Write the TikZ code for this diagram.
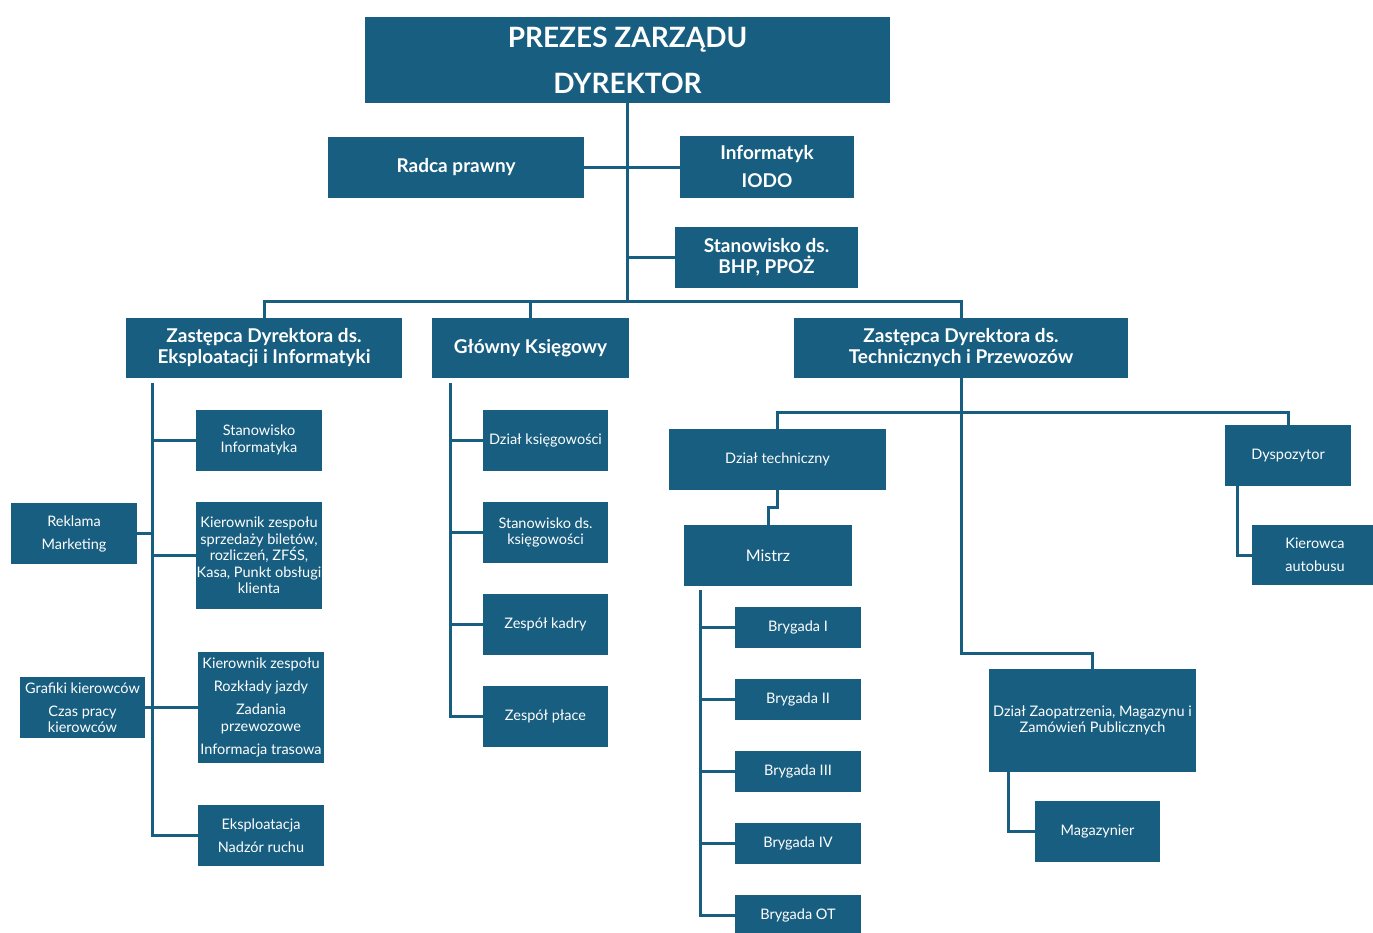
\documentclass[tikz,border=0pt]{standalone}
\usepackage{fontspec}
\setmainfont{Lato}
\definecolor{orgblue}{HTML}{185E80}
\begin{document}
\begin{tikzpicture}[x=1pt,y=-1pt,
	box/.style={fill=orgblue,text=white,align=center,inner sep=1pt,font=\fontsize{14.5}{16.5}\selectfont},
	bigbox/.style={box,font=\bfseries\fontsize{19}{21}\selectfont},
	small/.style={box,minimum width=126pt,minimum height=61pt},
	brygada/.style={box,minimum width=126pt,minimum height=41pt},
	link/.style={draw=orgblue,line width=3pt}]
	\useasboundingbox (0,0) rectangle (1373,932);
	\clip (0,0) rectangle (1373,932);
	\fill[white] (0,0) rectangle (1373,932);
	% top
	\node[bigbox,font=\bfseries\fontsize{28}{46}\selectfont,minimum width=525pt,minimum height=86pt] (prezes) at (627.5,60) {PREZES ZARZĄDU\\DYREKTOR};
	\node[bigbox,minimum width=256pt,minimum height=61pt] (radca) at (456,167) {Radca prawny};
	\node[bigbox,minimum width=174pt,minimum height=62pt] (informatyk) at (767,167) {Informatyk\\[7pt]IODO};
	\node[bigbox,minimum width=183pt,minimum height=61pt] (bhp) at (766.5,257.5) {Stanowisko ds.\\BHP, PPOŻ};
	\node[bigbox,minimum width=276pt,minimum height=60pt] (zastE) at (264,348) {Zastępca Dyrektora ds.\\Eksploatacji i Informatyki};
	\node[bigbox,minimum width=197pt,minimum height=60pt] (ksiegowy) at (530.5,348) {Główny Księgowy};
	\node[bigbox,minimum width=334pt,minimum height=60pt] (zastT) at (961,348) {Zastępca Dyrektora ds.\\Technicznych i Przewozów};
	% left column
	\node[small] (stInf) at (259,440) {Stanowisko\\Informatyka};
	\node[small] (reklama) at (74,533.5) {Reklama\\[6.5pt]Marketing};
	\node[small,minimum height=107pt] (sprzedaz) at (259,555.5) {Kierownik zespołu\\sprzedaży biletów,\\rozliczeń, ZFŚS,\\Kasa, Punkt obsługi\\klienta};
	\node[small,minimum width=125pt] (grafiki) at (82.5,707.5) {Grafiki kierowców\\[6.5pt]Czas pracy\\kierowców};
	\node[small,minimum height=111pt] (rozklady) at (261,707.5) {Kierownik zespołu\\[6.5pt]Rozkłady jazdy\\[6.5pt]Zadania\\przewozowe\\[6.5pt]Informacja trasowa};
	\node[small] (eksploatacja) at (261,835.5) {Eksploatacja\\[6.5pt]Nadzór ruchu};
	% middle column
	\node[small,minimum width=125pt] (dzKsieg) at (545.5,440) {Dział księgowości};
	\node[small,minimum width=125pt] (stKsieg) at (545.5,532.5) {Stanowisko ds.\\księgowości};
	\node[small,minimum width=125pt] (kadry) at (545.5,624) {Zespół kadry};
	\node[small,minimum width=125pt] (place) at (545.5,716) {Zespół płace};
	% right part
	\node[small,minimum width=217pt] (techniczny) at (777.5,459.5) {Dział techniczny};
	\node[small,minimum width=168pt,font=\fontsize{16}{18}\selectfont] (mistrz) at (768,555.5) {Mistrz};
	\node[brygada] (brygI) at (798,627.5) {Brygada I};
	\node[brygada] (brygII) at (798,699.5) {Brygada II};
	\node[brygada] (brygIII) at (798,771.5) {Brygada III};
	\node[brygada] (brygIV) at (798,843.5) {Brygada IV};
	\node[brygada] (brygOT) at (798,915.5) {Brygada OT};
	\node[small] (dyspozytor) at (1288,455.5) {Dyspozytor};
	\node[small,minimum height=60pt] (kierowca) at (1315,555) {Kierowca\\[6.5pt]autobusu};
	\node[small,minimum width=207pt,minimum height=103pt] (zaopatrzenie) at (1092.5,720.5) {Dział Zaopatrzenia, Magazynu i\\Zamówień Publicznych};
	\node[small,minimum width=125pt] (magazynier) at (1097.5,831.5) {Magazynier};
	% connectors
	\coordinate (hub) at (627.5,301);
	\draw[link] (prezes.south) -- (hub);
	\draw[link] (radca) -- (informatyk);
	\draw[link] (bhp.west) -- (bhp.west -| hub);
	\draw[link] (zastE.north) |- (hub) -| (zastT.north);
	\draw[link] (ksiegowy.north) -- (ksiegowy.north |- hub);
	\coordinate (eL) at ([xshift=-112pt,yshift=-5pt]zastE.south);
	\draw[link] (eL) |- (eksploatacja.west);
	\draw[link] (stInf.west) -- (stInf.west -| eL);
	\draw[link] (sprzedaz.west) -- (sprzedaz.west -| eL);
	\draw[link] (rozklady.west) -- (rozklady.west -| eL);
	\draw[link] (reklama.east) -- (reklama.east -| eL);
	\draw[link] (grafiki.east) -- (grafiki.east -| eL);
	\coordinate (kL) at ([xshift=-80.5pt,yshift=-5pt]ksiegowy.south);
	\draw[link] (kL) |- (place.west);
	\draw[link] (dzKsieg.west) -- (dzKsieg.west -| kL);
	\draw[link] (stKsieg.west) -- (stKsieg.west -| kL);
	\draw[link] (kadry.west) -- (kadry.west -| kL);
	\coordinate (tH) at ([yshift=-34pt]zastT.south);
	\draw[link] (zastT.south) |- ([yshift=15pt]zaopatrzenie.north) -- (zaopatrzenie.north);
	\draw[link] (techniczny.north) |- (tH) -| (dyspozytor.north);
	\draw[link] (techniczny.south) -- ++(0,17) -| (mistrz.north);
	\coordinate (mL) at ([xshift=-68pt,yshift=-4pt]mistrz.south);
	\draw[link] (mL) |- (brygOT.west);
	\draw[link] (brygI.west) -- (brygI.west -| mL);
	\draw[link] (brygII.west) -- (brygII.west -| mL);
	\draw[link] (brygIII.west) -- (brygIII.west -| mL);
	\draw[link] (brygIV.west) -- (brygIV.west -| mL);
	\draw[link] ([xshift=-51pt]dyspozytor.south) |- (kierowca.west);
	\draw[link] ([xshift=-84.5pt]zaopatrzenie.south) |- (magazynier.west);
\end{tikzpicture}
\end{document}
